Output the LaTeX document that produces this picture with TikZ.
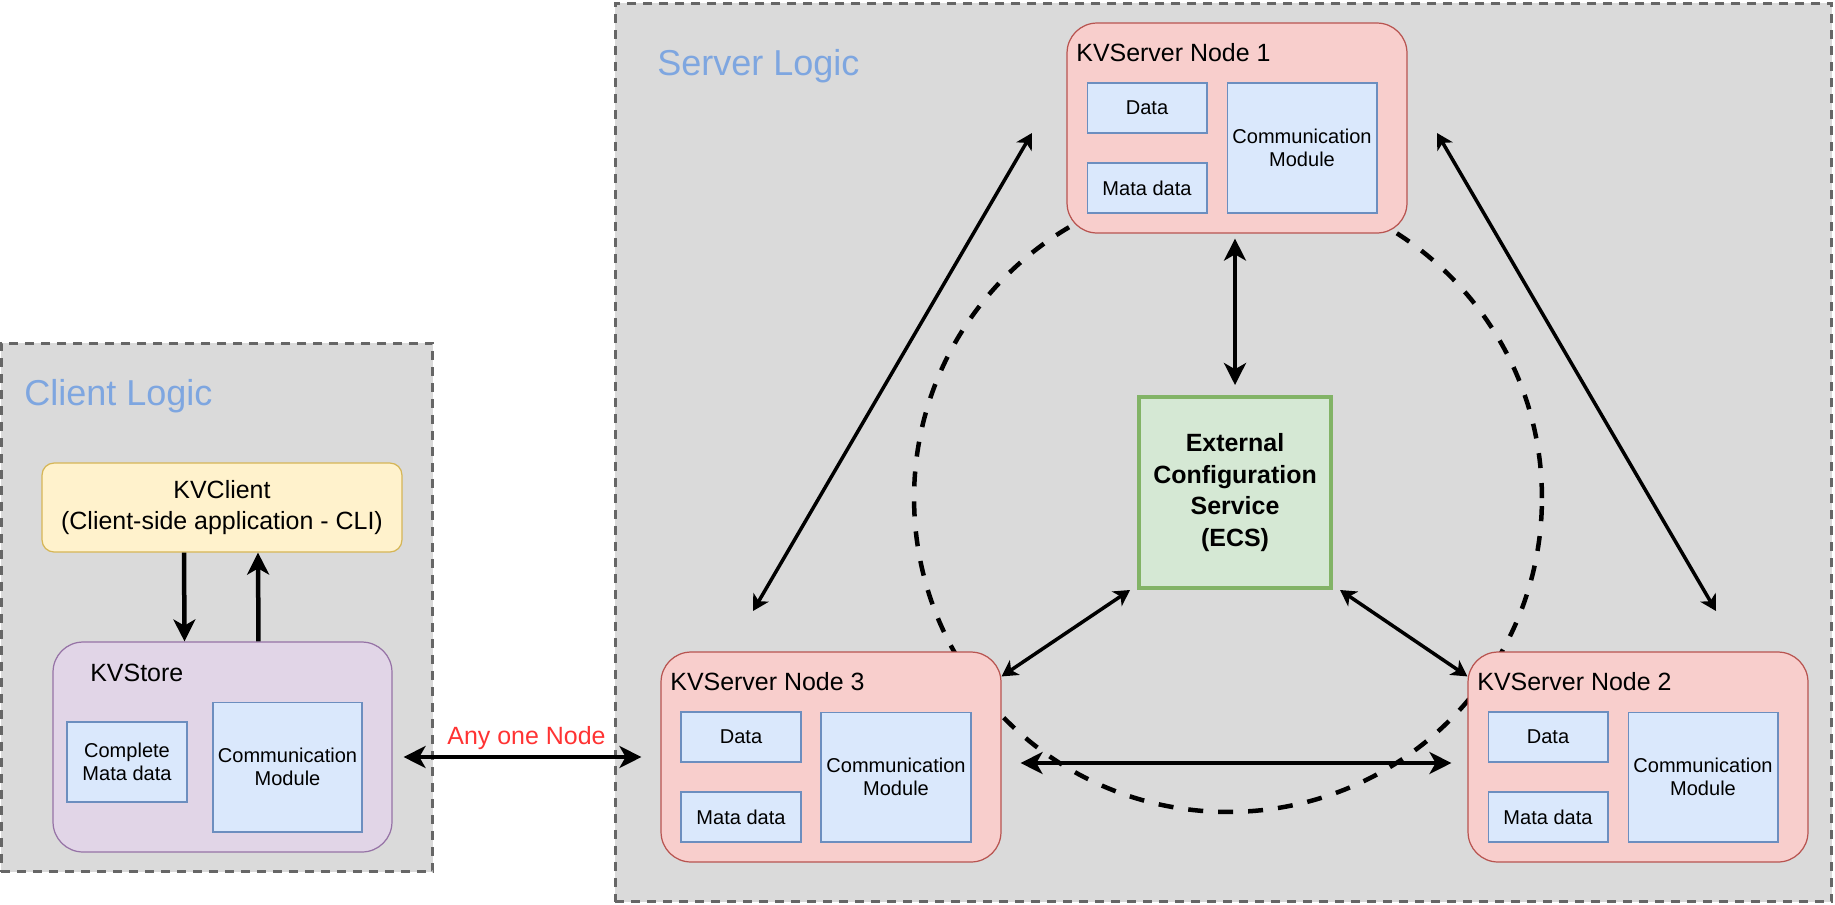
\documentclass[tikz,border=0pt]{standalone}
\usepackage{fontspec}
\setmainfont{Liberation Sans}
\usepackage{tikz}
\usetikzlibrary{arrows.meta}

\definecolor{groupfill}{HTML}{DADADA}
\definecolor{groupline}{HTML}{666666}
\definecolor{titleblue}{HTML}{7EA6E0}
\definecolor{clientfill}{HTML}{FFF2CC}
\definecolor{clientline}{HTML}{D6B656}
\definecolor{storefill}{HTML}{E1D5E7}
\definecolor{storeline}{HTML}{9673A6}
\definecolor{serverfill}{HTML}{F8CECC}
\definecolor{serverline}{HTML}{B85450}
\definecolor{modfill}{HTML}{DAE8FC}
\definecolor{modline}{HTML}{6C8EBF}
\definecolor{ecsfill}{HTML}{D5E8D4}
\definecolor{ecsline}{HTML}{82B366}
\definecolor{anyred}{HTML}{FF3333}

\begin{document}
\begin{tikzpicture}[x=0.02cm, y=-0.02cm]
\tikzset{
    group/.style={draw=groupline, fill=groupfill, line width=0.06cm, dash pattern=on 0.18cm off 0.14cm, inner sep=0pt},
    title/.style={text=titleblue, font=\fontsize{20.5}{24}\selectfont, anchor=base west, inner sep=0pt},
    boxname/.style={font=\fontsize{14.2}{17.6}\selectfont, anchor=base west, inner sep=0pt},
    server/.style={draw=serverline, fill=serverfill, line width=0.7pt, rounded corners=0.6cm,
        minimum width=6.8cm, minimum height=4.2cm},
    module/.style={draw=modline, fill=modfill, line width=0.6pt, inner sep=0pt, align=center,
        font=\fontsize{11.4}{13}\selectfont},
    link/.style={line width=0.07cm, >={Stealth[length=9pt, width=10pt, inset=2.5pt]}},
    biglink/.style={line width=0.09cm, >={Stealth[length=12.5pt, width=12.5pt, inset=3.5pt]}},
    ring/.style={line width=0.09cm, dash pattern=on 0.3cm off 0.3cm},
}
\useasboundingbox (0,0) rectangle (1835,904);

% Groups
\node[group, minimum width=8.64cm, minimum height=10.58cm] (clientgroup) at (217,607.5) {};
\node[group, minimum width=24.34cm, minimum height=17.98cm] (servergroup) at (1223.5,452.5) {};
\node[title] (clienttitle) at (24,405) {Client Logic};
\node[title] (servertitle) at (657,75) {Server Logic};

% Ring behind the servers
\draw[ring] (1228,498) circle [radius=6.28cm];

% Client side
\node[draw=clientline, fill=clientfill, line width=0.7pt, rounded corners=0.24cm, inner sep=0pt,
      minimum width=7.2cm, minimum height=1.78cm, align=center,
      font=\fontsize{14.2}{17.6}\selectfont] (kvclient) at (222,507.5)
      {KVClient\\(Client-side application - CLI)};
\node[draw=storeline, fill=storefill, line width=0.7pt, rounded corners=0.6cm,
      minimum width=6.78cm, minimum height=4.2cm] (kvstore) at (222.5,747) {};
\node[boxname] (storename) at (90,681) {KVStore};
\node[module, minimum width=2.4cm, minimum height=1.6cm] (fullmeta) at (127,762) {Complete\\Mata data};
\node[module, minimum width=2.98cm, minimum height=2.6cm] (clientcomm) at (287.5,767) {Communication\\Module};

% Three servers, same layout
\foreach \N/\X/\Y in {1/1067/23, 2/1468/652, 3/661/652}{
    \node[server] (node\N) at (\X+170,\Y+105) {};
    \node[boxname] (name\N) at (\X+9,\Y+38) {KVServer Node \N};
    \node[module, minimum width=2.4cm, minimum height=1cm] (data\N) at (\X+80,\Y+85) {Data};
    \node[module, minimum width=2.4cm, minimum height=1cm] (meta\N) at (\X+80,\Y+165) {Mata data};
    \node[module, minimum width=3cm, minimum height=2.6cm] (comm\N) at (\X+235,\Y+125) {Communication\\Module};
}

% ECS
\node[draw=ecsline, fill=ecsfill, line width=0.08cm, inner sep=0pt, align=center,
      minimum width=3.84cm, minimum height=3.82cm,
      font=\fontsize{14.2}{17.9}\selectfont\bfseries] (ecs) at (1235,492.5)
      {External\\Configuration\\Service\\(ECS)};

% Free ends of the long diagonals
\coordinate (d3) at (753,611);
\coordinate (d1l) at (1032,133);
\coordinate (d1r) at (1437,133);
\coordinate (d2) at (1716,611);

% Arrows
\draw[biglink, ->] ([xshift=-0.76cm]kvclient.south) -- ([xshift=-0.76cm]kvstore.north);
\draw[biglink, ->] ([xshift=0.72cm]kvstore.north) -- ([xshift=0.72cm]kvclient.south);
\draw[biglink, <->, shorten <=0.22cm, shorten >=0.38cm] (kvstore.east |- node3.west) -- (node3.west)
    node[midway, yshift=0.38cm, text=anyred, font=\fontsize{14.2}{17.6}\selectfont] (anyone) {Any one Node};
\draw[biglink, <->, shorten <=0.1cm, shorten >=0.2cm] (node1.south -| ecs.north) -- (ecs.north);
\draw[biglink, <->, shorten <=0.38cm, shorten >=0.32cm] ([yshift=-0.12cm]node3.east) -- ([yshift=-0.12cm]node2.west);
\draw[link, <->] ([yshift=-0.5cm]node3.north east) -- ([xshift=-0.14cm]ecs.south west);
\draw[link, <->] ([xshift=0.14cm]ecs.south east) -- ([yshift=-0.5cm]node2.north west);
\draw[link, <->] (d3) -- (d1l);
\draw[link, <->] (d1r) -- (d2);

\end{tikzpicture}
\end{document}
